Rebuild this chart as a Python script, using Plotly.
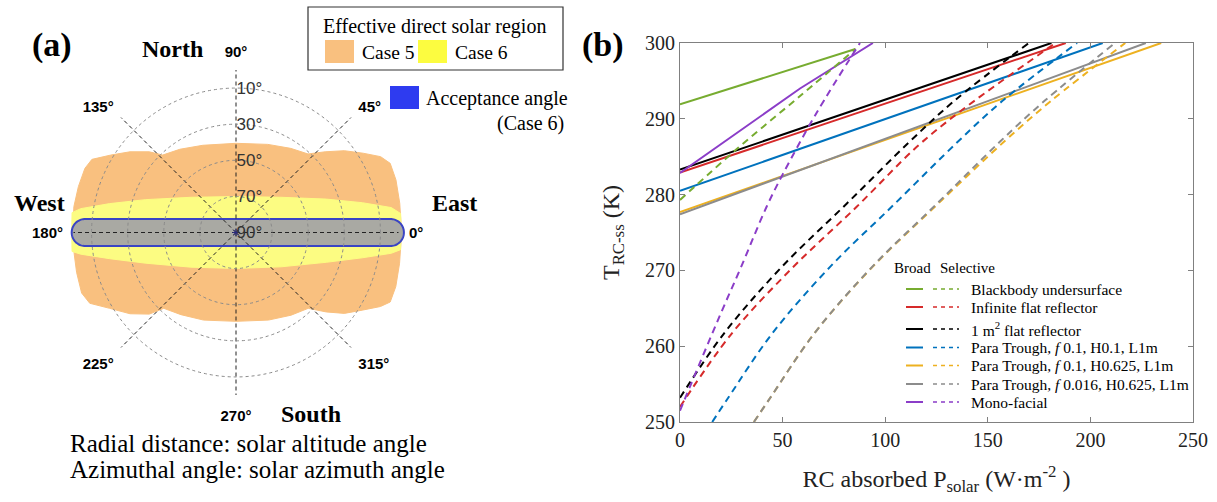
import numpy as np
import plotly.graph_objects as go

W, H = 1217, 502
SERIF = "Liberation Serif"
SANS = "Liberation Sans"

# ---------------- panel (a) data ----------------
# region boundaries in projected sky coordinates (zenith-angle degrees, x = East, y = North)
case5_x = [91.7, 90.7, 88.6, 85.4, 80.1, 70.5, 60.0, 49.4, 39.9, 30.3, 17.6, 0.0, -18.4, -31.1,
           -40.6, -48.1, -58.7, -69.3, -79.8, -83.7, -87.3, -89.8, -90.4,
           -89.6, -88.3, -85.5, -81.0, -70.0, -58.7, -48.0, -40.0, -30.5, -18.0, 0.0, 18.0,
           30.5, 40.0, 50.0, 60.0, 70.0, 80.0, 85.4, 88.5, 90.6]
case5_y = [0.0, 16.2, 29.1, 38.3, 42.0, 43.9, 45.3, 44.7, 43.5, 46.6, 48.8, 49.4, 48.3, 46.1,
           42.9, 44.7, 44.7, 42.9, 40.5, 35.5, 25.4, 14.3, 0.0,
           -12.0, -22.0, -33.5, -39.2, -42.0, -45.0, -45.2, -42.0, -45.5, -48.5, -49.2, -48.5,
           -45.8, -42.0, -44.0, -44.8, -43.0, -41.0, -38.5, -30.0, -17.0]
case6_x = [91.5, 91.2, 86.0, 70.0, 50.0, 25.0, 0.0, -25.0, -50.0, -70.0, -86.0, -90.8, -91.0,
           -90.8, -86.0, -70.0, -50.0, -25.0, 0.0, 25.0, 50.0, 70.0, 86.0, 91.2]
case6_y = [0.0, 10.5, 13.8, 16.5, 18.5, 19.5, 19.9, 19.5, 18.2, 16.0, 13.2, 11.0, 0.0,
           -10.5, -12.0, -14.5, -17.0, -19.2, -19.9, -19.0, -16.5, -14.0, -11.5, -9.5]
accept_half_deg = 7.5
accept_west, accept_east = -91.0, 93.0

az_ticks = [0, 45, 90, 135, 180, 225, 270, 315]
az_labels = ["<b>0°</b>", "<b>45°</b>", "<b>90°</b>", "<b>135°</b>", "<b>180°</b>",
             "<b>225°</b>", "<b>270°</b>", "<b>315°</b>"]
alt_ticks = [90, 70, 50, 30, 10]          # solar altitude of rings
alt_labels = ["90°", "70°", "50°", "30°", "10°"]

# ---------------- panel (b) data ----------------
P_green_broad = [0, 85.5];                       T_green_broad = [291.9, 299.2]
P_green_sel = [0, 28.5, 58.5, 85.5];             T_green_sel = [279.3, 286.2, 293.0, 299.2]
P_red_broad = [0, 188];                          T_red_broad = [282.9, 300]
P_red_sel = [0, 25.3, 55, 86.1, 115.4, 136.7, 183]
T_red_sel = [252.0, 261.7, 270.4, 278.4, 286.3, 291.0, 300]
P_black_broad = [0, 181];                        T_black_broad = [283.3, 300]
P_black_sel = [0, 21.5, 49.4, 81.2, 112, 133.8, 170]
T_black_sel = [253.2, 261.7, 270.4, 278.8, 287.0, 292.4, 300]
P_blue_broad = [0, 206];                         T_blue_broad = [280.5, 300]
P_blue_sel = [15.7, 23.5, 45, 72.9, 104.7, 135.5, 157.3, 193.5]
T_blue_sel = [250, 253.2, 261.7, 270.4, 278.8, 287.0, 292.4, 300]
P_yellow_broad = [0, 234.5];                     T_yellow_broad = [277.7, 300]
P_yellow_sel = [36, 44, 65.5, 93.6, 125.8, 158, 181, 217]
T_yellow_sel = [250, 253.2, 261.7, 270.4, 278.8, 287.0, 292.4, 300]
P_gray_broad = [0, 227];                         T_gray_broad = [277.4, 300]
P_gray_sel = [36, 44, 65.5, 93.4, 125.2, 156, 177.8, 212]
T_gray_sel = [250, 253.2, 261.7, 270.4, 278.8, 287.0, 292.4, 300]
P_purple_broad = [0, 58.5, 94];                  T_purple_broad = [282.85, 294.0, 300]
P_purple_sel = [0, 10, 20, 30, 42.2, 50.3, 66.6, 87.7]
T_purple_sel = [251.5, 258.0, 264.4, 270.6, 278.4, 282.8, 290.8, 300]

series_names = ["Blackbody undersurface", "Infinite flat reflector", "1 m<sup>2</sup> flat reflector",
                "Para Trough, <i>f</i> 0.1, H0.1, L1m", "Para Trough, <i>f</i> 0.1, H0.625, L1m",
                "Para Trough, <i>f</i> 0.016, H0.625, L1m", "Mono-facial"]
series_colors = ["#77AC30", "#D62A2A", "#000000", "#0072BD", "#EDB120", "#8C8C8C", "#8B3DC8"]
broad = [(P_green_broad, T_green_broad), (P_red_broad, T_red_broad), (P_black_broad, T_black_broad),
         (P_blue_broad, T_blue_broad), (P_yellow_broad, T_yellow_broad), (P_gray_broad, T_gray_broad),
         (P_purple_broad, T_purple_broad)]
selective = [(P_green_sel, T_green_sel), (P_red_sel, T_red_sel), (P_black_sel, T_black_sel),
             (P_blue_sel, T_blue_sel), (P_yellow_sel, T_yellow_sel), (P_gray_sel, T_gray_sel),
             (P_purple_sel, T_purple_sel)]


def to_polar(x, y):
    x = np.asarray(x, float)
    y = np.asarray(y, float)
    r = np.hypot(x, y)
    th = np.degrees(np.arctan2(y, x)) % 360
    return np.append(r, r[0]), np.append(th, th[0])


fig = go.Figure()

# filled regions (lower polar subplot)
r5, t5 = to_polar(case5_x, case5_y)
fig.add_trace(go.Scatterpolar(r=r5, theta=t5, mode="lines", fill="toself", fillcolor="#F9C07F",
                              line=dict(color="#F9C07F", width=1), subplot="polar", showlegend=False))
r6, t6 = to_polar(case6_x, case6_y)
fig.add_trace(go.Scatterpolar(r=r6, theta=t6, mode="lines", fill="toself", fillcolor="#FCFC82",
                              line=dict(color="#FCFC82", width=1), subplot="polar", showlegend=False))
a = np.radians(np.linspace(-90, 90, 40))
cx_e = accept_east - accept_half_deg
cx_w = accept_west + accept_half_deg
cap_x = np.concatenate([cx_e + accept_half_deg * np.cos(a), cx_w - accept_half_deg * np.cos(a)])
cap_y = np.concatenate([accept_half_deg * np.sin(a), -accept_half_deg * np.sin(a)])
rc, tc = to_polar(cap_x, cap_y)
fig.add_trace(go.Scatterpolar(r=rc, theta=tc, mode="lines", fill="toself", fillcolor="#A9A9A3",
                              line=dict(color="#3A44C4", width=2), subplot="polar", showlegend=False))
# centre marker on the grid subplot
fig.add_trace(go.Scatterpolar(r=[0], theta=[0], mode="markers",
                              marker=dict(symbol="asterisk-open", size=6, color="#2A2A80",
                                          line=dict(color="#2A2A80", width=1)),
                              subplot="polar2", showlegend=False))

# panel (b) curves
for (P, T), c in zip(broad, series_colors):
    fig.add_trace(go.Scatter(x=P, y=T, mode="lines", line=dict(color=c, width=2),
                             xaxis="x", yaxis="y", showlegend=False))
for (P, T), c in zip(selective, series_colors):
    fig.add_trace(go.Scatter(x=P, y=T, mode="lines", line=dict(color=c, width=2, dash="7px,5px"),
                             line_shape="spline", xaxis="x", yaxis="y", showlegend=False))

# polar geometry
cxp, cyp, R = 236, 232.5, 162.5
R1 = R * 100 / 90


def dom(rad):
    return dict(x=[(cxp - rad) / W, (cxp + rad) / W], y=[1 - (cyp + rad) / H, 1 - (cyp - rad) / H])


def px(x):
    return x / W


def py(y):
    return 1 - y / H


ann = []
shapes = []


def text(x, y, s, size, family=SERIF, xanchor="center", color="black"):
    ann.append(dict(x=px(x), y=py(y), xref="paper", yref="paper", text=s, showarrow=False,
                    xanchor=xanchor, yanchor="middle", font=dict(family=family, size=size, color=color)))


text(52, 45, "<b>(a)</b>", 34)
text(603, 45, "<b>(b)</b>", 34)
text(172, 49, "<b>North</b>", 24)
text(39, 203, "<b>West</b>", 24)
text(454, 203, "<b>East</b>", 24)
text(311, 414, "<b>South</b>", 24)
text(68, 443, "Radial distance: solar altitude angle", 25, xanchor="left")
text(68, 469, "Azimuthal angle: solar azimuth angle", 25, xanchor="left")

# legend (a)
shapes.append(dict(type="rect", xref="paper", yref="paper", x0=px(308), x1=px(563), y0=py(7), y1=py(70),
                   line=dict(color="#333", width=1.2), fillcolor="rgba(0,0,0,0)"))
text(434, 27, "Effective direct solar region", 20)
shapes.append(dict(type="rect", xref="paper", yref="paper", x0=px(325), x1=px(354), y0=py(40), y1=py(63),
                   line=dict(width=0), fillcolor="#F9C07F"))
text(360, 52, "Case 5", 19.5, xanchor="left")
shapes.append(dict(type="rect", xref="paper", yref="paper", x0=px(418), x1=px(447), y0=py(40), y1=py(63),
                   line=dict(width=0), fillcolor="#FCFC40"))
text(453, 52, "Case 6", 19.5, xanchor="left")
shapes.append(dict(type="rect", xref="paper", yref="paper", x0=px(390), x1=px(419), y0=py(86), y1=py(109),
                   line=dict(width=0), fillcolor="#2E3BF0"))
text(424, 98, "Acceptance angle", 20, xanchor="left")
text(566, 123, "(Case 6)", 20, xanchor="right")

# legend (b)
text(892, 268, "Broad", 15, xanchor="left")
text(938, 268, "Selective", 15, xanchor="left")
rows_y = [289, 307, 329, 347.5, 365.5, 384, 402]
for yy, name, c in zip(rows_y, series_names, series_colors):
    shapes.append(dict(type="line", xref="paper", yref="paper", x0=px(906), x1=px(923), y0=py(yy), y1=py(yy),
                       line=dict(color=c, width=2)))
    shapes.append(dict(type="line", xref="paper", yref="paper", x0=px(933), x1=px(959), y0=py(yy), y1=py(yy),
                       line=dict(color=c, width=1.5, dash="4px,4px")))
    text(969, yy, name, 15.5, xanchor="left")

axis_common = dict(showline=True, linecolor="#808080", linewidth=1, mirror="ticks", ticks="inside",
                   ticklen=5, tickcolor="#808080", showgrid=False, zeroline=False, automargin=False,
                   tickfont=dict(family=SERIF, size=20, color="#222"))

fig.update_layout(
    width=W, height=H, margin=dict(l=0, r=0, t=0, b=0, pad=0, autoexpand=False),
    paper_bgcolor="white", plot_bgcolor="white",
    showlegend=False,
    polar=dict(domain=dom(R1), bgcolor="rgba(0,0,0,0)",
               radialaxis=dict(range=[0, 100], visible=False),
               angularaxis=dict(visible=False, rotation=0, direction="counterclockwise")),
    polar2=dict(domain=dom(R), bgcolor="rgba(0,0,0,0)",
                radialaxis=dict(range=[0, 90], angle=90, tickangle=90, tickvals=[90 - v for v in alt_ticks],
                                ticktext=alt_labels, showline=False, ticks="", showgrid=True,
                                gridcolor="#8a8a8a", griddash="dot", gridwidth=1,
                                tickfont=dict(family=SANS, size=17, color="#333")),
                angularaxis=dict(rotation=0, direction="counterclockwise", tickmode="array",
                                 tickvals=az_ticks, ticktext=az_labels, showline=False,
                                 ticks="outside", ticklen=7, tickcolor="rgba(0,0,0,0)",
                                 gridcolor="#222", griddash="4px,3px", gridwidth=1,
                                 tickfont=dict(family=SANS, size=15, color="black"))),
    xaxis=dict(domain=[680 / W, 1193 / W], range=[0, 250], tickvals=[0, 50, 100, 150, 200, 250],
               title=dict(text="RC absorbed P<sub>solar</sub> (W·m<sup>-2</sup> )",
                          font=dict(family=SERIF, size=24, color="#222"), standoff=20),
               anchor="y", **axis_common),
    yaxis=dict(domain=[1 - 422 / H, 1 - 43 / H], range=[250, 300], tickvals=[250, 260, 270, 280, 290, 300],
               title=dict(text="T<sub>RC-ss</sub> (K)", font=dict(family=SERIF, size=24, color="#222"),
                          standoff=18),
               anchor="x", **axis_common),
    annotations=ann, shapes=shapes,
)

fig.write_html("out.html")
